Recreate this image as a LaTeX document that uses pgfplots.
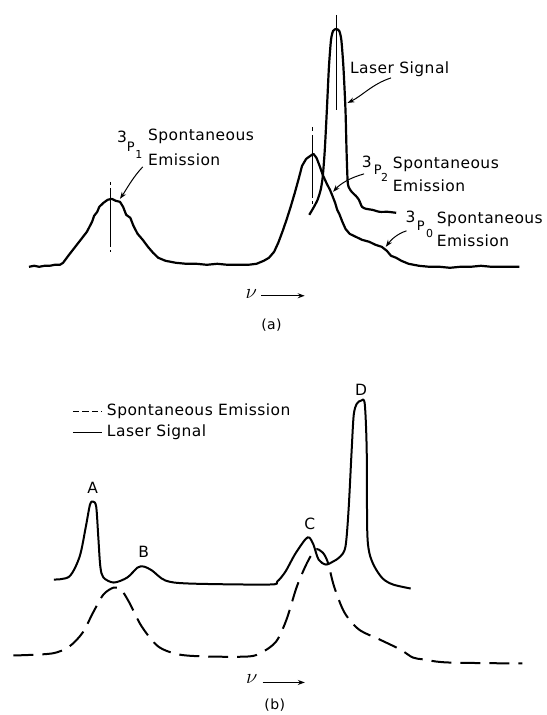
\documentclass[border=0pt]{standalone}
\usepackage{pgfplots}
\pgfplotsset{compat=1.18}
\usepackage{fontspec}
\setmainfont{DejaVu Sans}[LetterSpace=3]
\usetikzlibrary{arrows.meta}
\begin{document}
\begin{tikzpicture}
\begin{axis}[x=1.0352pt,y=1pt,xmin=0,xmax=522.6,ymin=0,ymax=715,y dir=reverse,
  hide axis,clip=false,anchor=south west,at={(0,0)}]
\path (axis cs:0,0) (axis cs:522.6,715);
% ---------- panel (a) ----------
\addplot[black,line width=2.2pt,line join=round] coordinates {
(28,267)(33,266)(38,267)(43,266)(48,266)(53,265)(58,265)(61,263)(66,256)(72,248)(78,240)(84,232)(89,222)(91,216)(94,212)(96,207)(100,203)(104,200)(108,199)(112,201)(116,202)(119,207)(122,215)(126,218)(129,226)(133,234)(138,240)(143,247)(148,253)(153,258)(160,261)(170,263)(180,264)(190,264)(200,265)(210,264)(220,265)(230,265)(240,265)(248,264)(255,261)(260,258)(265,252)(269,243)(273,232)(277,220)(281,207)(285,193)(289,178)(292,166)(296,159)(300,156)(303,154)(306,158)(309,166)(312,175)(316,184)(319,190)(321,195)(324,203)(326,210)(328,214)(331,222)(334,229)(338,234)(344,237)(350,240)(357,242)(363,245)(369,247)(374,251)(378,256)(383,258)(388,261)(395,264)(405,266)(415,267)(425,267)(435,268)(445,267)(455,267)(465,266)(475,267)(485,267)(495,267)(502,267)};
\addplot[black,line width=2.2pt,smooth,tension=0.4] coordinates {
(299,215)(303,208)(307,200)(310,190)(312,177)(314,150)(316,110)(318,67)(320,40)(322,31)(325,29)(328,31)(330,40)(332,67)(334,110)(335,150)(336,180)(337,187)(340,192)(344,196)(347,200)(350,207)(354,209)(360,210)(367,212)(375,212)(383,213)};
\addplot[black,line width=1pt] coordinates {(325,15)(325,110)};
\addplot[black,line width=1pt,dash pattern=on 3pt off 3pt on 59pt off 3pt on 2pt] coordinates {(107,182)(107,252)};
\addplot[black,line width=1pt,dash pattern=on 4pt off 4pt on 63pt off 3pt on 3pt] coordinates {(302,127)(302,205)};
% labels (a)
\node[anchor=west,font=\fontsize{15.5}{16}\selectfont] at (axis cs:335,69) {Laser Signal};
\draw[-{Stealth[length=7pt,width=5pt]},line width=1pt] (axis cs:378,78) .. controls (axis cs:360,84) and (axis cs:350,96) .. (axis cs:336,103);
\node[font=\fontsize{15.5}{16}\selectfont] at (axis cs:117.9,137) {3};
\node[font=\fontsize{13}{14}\selectfont] at (axis cs:126.5,147) {P};
\node[font=\fontsize{11}{12}\selectfont] at (axis cs:134.3,155) {1};
\node[anchor=west,font=\fontsize{15.5}{16}\selectfont] at (axis cs:139.8,136) {Spontaneous};
\node[anchor=west,font=\fontsize{15.5}{16}\selectfont] at (axis cs:139.8,160) {Emission};
\draw[-{Stealth[length=7pt,width=5pt]},line width=1pt] (axis cs:138,167) .. controls (axis cs:128,178) and (axis cs:122,190) .. (axis cs:116,199);
\node[font=\fontsize{15.5}{16}\selectfont] at (axis cs:354.5,162) {3};
\node[font=\fontsize{13}{14}\selectfont] at (axis cs:365.2,170) {P};
\node[font=\fontsize{11}{12}\selectfont] at (axis cs:371.9,178) {2};
\node[anchor=west,font=\fontsize{15.5}{16}\selectfont] at (axis cs:376.5,164) {Spontaneous};
\node[anchor=west,font=\fontsize{15.5}{16}\selectfont] at (axis cs:376.5,186) {Emission};
\draw[-{Stealth[length=7pt,width=5pt]},line width=1pt] (axis cs:352,174) .. controls (axis cs:338,178) and (axis cs:329,184) .. (axis cs:322,192);
\node[font=\fontsize{15.5}{16}\selectfont] at (axis cs:397,217) {3};
\node[font=\fontsize{13}{14}\selectfont] at (axis cs:406.7,226) {P};
\node[font=\fontsize{11}{12}\selectfont] at (axis cs:415.4,234) {0};
\node[anchor=west,font=\fontsize{15.5}{16}\selectfont] at (axis cs:419,220) {Spontaneous};
\node[anchor=west,font=\fontsize{15.5}{16}\selectfont] at (axis cs:419,241) {Emission};
\draw[-{Stealth[length=7pt,width=5pt]},line width=1pt] (axis cs:393,231) .. controls (axis cs:384,234) and (axis cs:378,240) .. (axis cs:373,247);
\node[font=\fontsize{22}{22}\selectfont] at (axis cs:243,294) {$\nu$};
\draw[-{Stealth[length=7pt,width=5pt]},line width=1pt] (axis cs:252.8,296) -- (axis cs:294.6,296);
\node[font=\fontsize{14}{15}\selectfont] at (axis cs:262.5,325) {(a)};
% ---------- panel (b) ----------
\addplot[black,line width=1.4pt,dash pattern=on 6.5pt off 3pt] coordinates {(70.5,412)(98.5,412)};
\addplot[black,line width=1.4pt] coordinates {(70.5,433)(98.5,433)};
\node[anchor=west,font=\fontsize{15.5}{16}\selectfont] at (axis cs:100,412) {Spontaneous Emission};
\node[anchor=west,font=\fontsize{15.5}{16}\selectfont] at (axis cs:100,433) {Laser Signal};
\addplot[black,line width=2pt,smooth,tension=0.5] coordinates {
(52,580)(67,577)(77,557)(83,527)(87,505)(90,502)(93,507)(95,537)(97,567)(100,578)(110,583)(123,578)(133,568)(139,567)(147,571)(160,581)(183,584)(260,585)(268,582)(276,572)(285,555)(295,540)(299,538)(303,545)(308,560)(315,565)(322,562)(329,557)(334,547)(337,510)(340,450)(342,415)(345,404)(349,401)(352.6,404)(354.5,450)(355,530)(357,553)(362,567)(370,579)(380,585)(397,589)};
\addplot[black,line width=2pt,smooth,tension=0.5,dash pattern=on 20pt off 9pt] coordinates {
(13,656)(50,654)(67,647)(80,633)(90,613)(100,595)(110,588)(117,590)(125,603)(137,627)(153,647)(173,655)(200,657)(240,657)(253,653)(267,642)(277,620)(287,587)(297,563)(305,550)(312,553)(317,563)(323,587)(333,613)(347,630)(367,640)(387,650)(399,658)(410,660)(433,663)(505,664)};
\node[font=\fontsize{15.5}{16}\selectfont] at (axis cs:89.7,488) {A};
\node[font=\fontsize{15.5}{16}\selectfont] at (axis cs:139,552) {B};
\node[font=\fontsize{15.5}{16}\selectfont] at (axis cs:299.5,524) {C};
\node[font=\fontsize{15.5}{16}\selectfont] at (axis cs:349,390) {D};
\node[font=\fontsize{22}{22}\selectfont] at (axis cs:243.5,680) {$\nu$};
\draw[-{Stealth[length=7pt,width=5pt]},line width=1pt] (axis cs:254,683) -- (axis cs:294.7,683);
\node[font=\fontsize{14}{15}\selectfont] at (axis cs:265.6,706) {(b)};
\end{axis}
\end{tikzpicture}
\end{document}
